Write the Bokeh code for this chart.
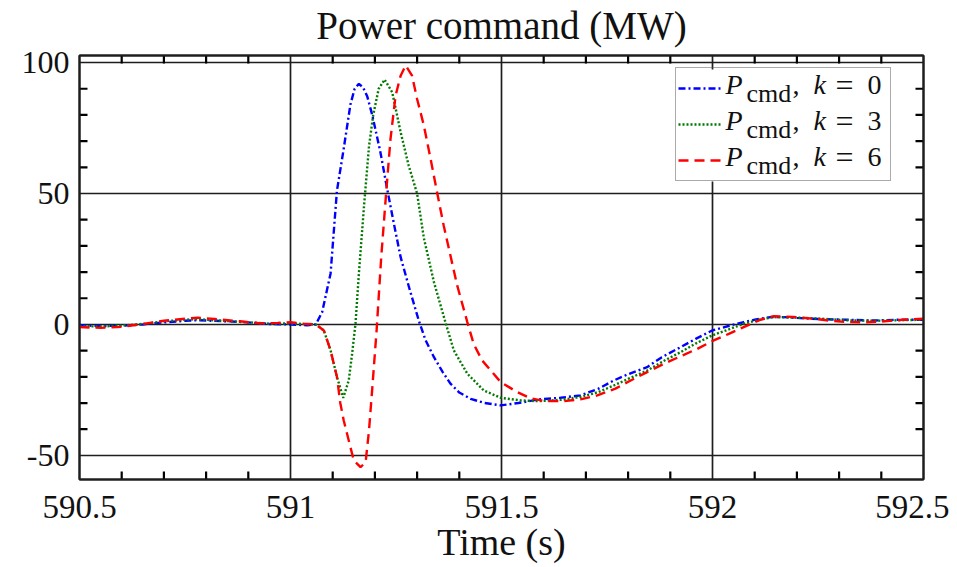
from bokeh.plotting import figure
from bokeh.models import Range1d, FixedTicker, LinearAxis, Legend, LegendItem, Label, BoxAnnotation
from bokeh.embed import file_html
from bokeh.resources import INLINE

# ---------------- data ----------------
t_k0 = [590.50, 590.55, 590.60, 590.65, 590.70, 590.75, 590.78, 590.82, 590.88, 590.95,
        591.00, 591.04, 591.06, 591.075, 591.095, 591.11, 591.126, 591.142, 591.152, 591.162,
        591.172, 591.182, 591.194, 591.213, 591.229, 591.245, 591.261, 591.283, 591.304, 591.32,
        591.34, 591.36, 591.379, 591.40, 591.427, 591.46, 591.498, 591.54, 591.588, 591.64,
        591.687, 591.73, 591.766, 591.80, 591.845, 591.88, 591.924, 591.96, 591.999, 592.04,
        592.074, 592.10, 592.137, 592.17, 592.20, 592.26, 592.32, 592.38, 592.44, 592.50]
p_k0 = [-0.3, -0.6, -0.5, 0.0, 0.8, 1.4, 1.6, 1.4, 1.0, 0.2,
        0.0, -0.3, 0.0, 4.7, 19.5, 51.0, 67.0, 84.0, 90.0, 91.9,
        90.5, 87.0, 79.8, 65.8, 51.8, 38.5, 25.7, 13.0, 1.5, -6.0,
        -12.5, -18.0, -22.6, -26.0, -28.4, -30.0, -30.9, -30.0, -28.6, -28.0,
        -27.1, -24.5, -21.4, -19.0, -16.3, -12.5, -8.7, -5.5, -2.3, -0.5,
        0.9, 1.8, 2.8, 2.8, 2.5, 2.0, 1.8, 1.5, 1.8, 1.8]

t_k3 = [590.50, 590.55, 590.60, 590.65, 590.70, 590.75, 590.78, 590.82, 590.88, 590.95,
        591.00, 591.04, 591.06, 591.079, 591.095, 591.11, 591.125, 591.138, 591.146, 591.154,
        591.162, 591.174, 591.186, 591.196, 591.209, 591.223, 591.241, 591.261, 591.28, 591.30,
        591.316, 591.34, 591.367, 591.387, 591.419, 591.458, 591.498, 591.545, 591.588, 591.64,
        591.687, 591.73, 591.766, 591.80, 591.845, 591.88, 591.924, 591.96, 591.999, 592.04,
        592.074, 592.11, 592.145, 592.20, 592.26, 592.32, 592.38, 592.44, 592.50]
p_k3 = [-0.6, -0.8, -0.4, 0.2, 1.2, 1.8, 2.0, 1.6, 1.0, 0.3,
        0.4, 0.1, 0.0, -2.3, -9.9, -20.0, -28.0, -21.4, -11.2, 0.3,
        19.3, 44.8, 68.0, 80.0, 90.0, 93.5, 88.7, 73.4, 60.7, 50.0,
        33.0, 16.1, 0.9, -9.9, -18.8, -25.2, -28.0, -29.0, -29.3, -28.8,
        -27.7, -25.8, -23.3, -20.8, -17.6, -14.3, -10.6, -7.3, -4.2, -1.8,
        0.3, 1.8, 2.8, 2.6, 2.2, 1.6, 1.4, 1.6, 1.8]

t_k6 = [590.50, 590.55, 590.60, 590.65, 590.70, 590.75, 590.78, 590.82, 590.88, 590.93,
        590.97, 591.00, 591.03, 591.06, 591.079, 591.095, 591.11, 591.118, 591.126, 591.138,
        591.15, 591.166, 591.178, 591.186, 591.194, 591.204, 591.215, 591.227, 591.237, 591.249,
        591.261, 591.273, 591.288, 591.30, 591.316, 591.332, 591.348, 591.363, 591.379, 591.395,
        591.419, 591.434, 591.454, 591.478, 591.498, 591.537, 591.569, 591.60, 591.648, 591.69,
        591.727, 591.77, 591.806, 591.845, 591.885, 591.925, 591.964, 592.003, 592.04, 592.074,
        592.114, 592.145, 592.19, 592.24, 592.28, 592.32, 592.36, 592.40, 592.45, 592.50]
p_k6 = [-1.0, -1.3, -0.9, 0.2, 1.4, 2.2, 2.6, 2.1, 1.2, 0.4,
        0.6, 0.9, 0.3, 0.0, -2.3, -9.9, -20.0, -30.0, -36.6, -44.3,
        -51.9, -54.5, -52.6, -40.5, -23.9, -2.3, 25.7, 51.0, 70.9, 87.4,
        95.0, 98.9, 95.0, 86.1, 76.0, 63.2, 49.9, 37.8, 26.3, 14.9,
        0.9, -7.4, -13.7, -18.2, -22.0, -25.8, -28.2, -29.2, -29.3, -28.5,
        -27.1, -24.5, -21.4, -18.2, -15.0, -12.1, -9.3, -6.1, -3.5, -1.0,
        1.8, 3.2, 2.9, 2.2, 1.4, 0.9, 0.8, 1.1, 1.8, 2.2]

x_ticks = [590.5, 591.0, 591.5, 592.0, 592.5]
x_tick_labels = ["590.5", "591", "591.5", "592", "592.5"]
y_ticks = [-50, 0, 50, 100]
y_tick_labels = ["-50", "0", "50", "100"]
k_values = ["0", "3", "6"]

title_text = "Power command (MW)"
xlabel_text = "Time (s)"

# ---------------- layout ----------------
X0, X1 = 590.5, 592.5
Y0, Y1 = -59.2, 102.7
FW, FH = 844, 424
FL, FT = 79, 55            # frame left / top on the canvas

SERIF = "Liberation Serif"
INK = "#1e1e1e"
TXT = "#111111"

# minor tick positions (between the major ticks)
x_minor = [round(590.5 + 0.1 * i, 2) for i in range(1, 20) if i % 5 != 0]
y_minor = [v for v in range(-40, 100, 10) if v % 50 != 0]

xt = FixedTicker(ticks=x_ticks)
yt = FixedTicker(ticks=y_ticks)

p = figure(frame_width=FW, frame_height=FH,
           x_range=Range1d(X0, X1), y_range=Range1d(Y0, Y1),
           output_backend="svg", toolbar_location=None,
           min_border_left=FL, min_border_right=26,
           min_border_top=FT, min_border_bottom=567 - FT - FH)

p.background_fill_color = "white"
p.border_fill_color = "white"
p.outline_line_color = INK
p.outline_line_width = 2

def style_axis(ax, labels, show_labels=True):
    ax.axis_line_color = INK
    ax.axis_line_width = 2
    ax.major_tick_in = 0
    ax.major_tick_out = 0
    ax.minor_tick_in = 0
    ax.minor_tick_out = 0
    if show_labels:
        ax.major_label_text_font = SERIF
        ax.major_label_text_color = TXT
        ax.major_label_overrides = labels
    else:
        ax.major_label_text_font_size = "0px"
        ax.major_label_text_color = None
        ax.major_label_standoff = 0

xb = p.xaxis[0]
xb.ticker = xt
style_axis(xb, {v: s for v, s in zip(x_ticks, x_tick_labels)})
xb.major_label_text_font_size = "33px"
xb.major_label_standoff = 16
xb.axis_label = xlabel_text
xb.axis_label_text_font = SERIF
xb.axis_label_text_font_size = "38px"
xb.axis_label_text_font_style = "normal"
xb.axis_label_text_color = TXT
xb.axis_label_standoff = 0

yl = p.yaxis[0]
yl.ticker = yt
style_axis(yl, {v: s for v, s in zip(y_ticks, y_tick_labels)})
yl.major_label_text_font_size = "32px"
yl.major_label_standoff = 10

# top axis carries the chart title as its label
xtop = LinearAxis(ticker=xt)
style_axis(xtop, None, show_labels=False)
xtop.axis_label = title_text
xtop.axis_label_text_font = SERIF
xtop.axis_label_text_font_size = "39px"
xtop.axis_label_text_font_style = "normal"
xtop.axis_label_text_color = TXT
xtop.axis_label_standoff = 9
p.add_layout(xtop, "above")

yright = LinearAxis(ticker=yt)
style_axis(yright, None, show_labels=False)
p.add_layout(yright, "right")

p.xgrid.ticker = xt
p.ygrid.ticker = yt
for g in (p.xgrid[0], p.ygrid[0]):
    g.grid_line_color = INK
    g.grid_line_width = 1.7
    g.grid_line_alpha = 1.0

def px2x(px):
    return X0 + (px - FL) / FW * (X1 - X0)

def py2y(py):
    return Y1 - (py - FT) / FH * (Y1 - Y0)

# inward minor tick marks on all four sides of the box
TICK_PX = 8
dy_t = TICK_PX / FH * (Y1 - Y0)
dx_t = TICK_PX / FW * (X1 - X0)
tick_style = dict(line_color="#000000", line_width=2.2)
p.segment(x0=x_minor, y0=[Y0] * len(x_minor), x1=x_minor, y1=[Y0 + dy_t] * len(x_minor), **tick_style)
p.segment(x0=x_minor, y0=[Y1] * len(x_minor), x1=x_minor, y1=[Y1 - dy_t] * len(x_minor), **tick_style)
p.segment(x0=[X0] * len(y_minor), y0=y_minor, x1=[X0 + dx_t] * len(y_minor), y1=y_minor, **tick_style)
p.segment(x0=[X1] * len(y_minor), y0=y_minor, x1=[X1 - dx_t] * len(y_minor), y1=y_minor, **tick_style)

# legend geometry (pixels on the canvas)
LEG_L, LEG_T, LEG_W, LEG_H = 675, 69, 214, 112

# white panel behind the legend (hides the grid lines)
p.add_layout(BoxAnnotation(left=px2x(LEG_L), right=px2x(LEG_L + LEG_W),
                           top=py2y(LEG_T), bottom=py2y(LEG_T + LEG_H),
                           fill_color="white", fill_alpha=1.0, line_alpha=0.0,
                           level="underlay"))

r0 = p.line(t_k0, p_k0, line_color="#0000ff", line_width=2.4, line_dash="7 3 2 3")
r3 = p.line(t_k3, p_k3, line_color="#007a00", line_width=2.4, line_dash="2 2")
r6 = p.line(t_k6, p_k6, line_color="#ff0000", line_width=2.4, line_dash="10 6")

legend = Legend(items=[LegendItem(label=" ", renderers=[r]) for r in (r0, r3, r6)],
                location=(LEG_L - FL, FT + FH - LEG_T - LEG_H))
legend.glyph_width = 44
legend.glyph_height = 36
legend.label_height = 36
legend.label_width = LEG_W - 52
legend.label_standoff = 4
legend.label_text_font_size = "2px"
legend.label_text_color = None
legend.padding = 2
legend.spacing = 0
legend.margin = 0
legend.border_line_color = "#555555"
legend.border_line_width = 1.5
legend.background_fill_alpha = 0.0
p.add_layout(legend)

for i, kv in enumerate(k_values):
    base = LEG_T + 15 + i * 36
    pieces = [("P", 725, 0, "italic", "28px"),
              ("cmd", 746, 9, "normal", "26px"),
              (",", 792, 0, "normal", "28px"),
              ("k", 813, 0, "italic", "28px"),
              ("=", 835, 0, "normal", "32px"),
              (kv, 867, 0, "normal", "28px")]
    for txt, px, dy, style, size in pieces:
        p.add_layout(Label(x=px2x(px), y=py2y(base + dy), text=txt,
                           text_font=SERIF, text_font_style=style,
                           text_font_size=size, text_color=TXT,
                           text_baseline="alphabetic", text_align="left"))

open("out.html", "w").write(file_html(p, INLINE))
